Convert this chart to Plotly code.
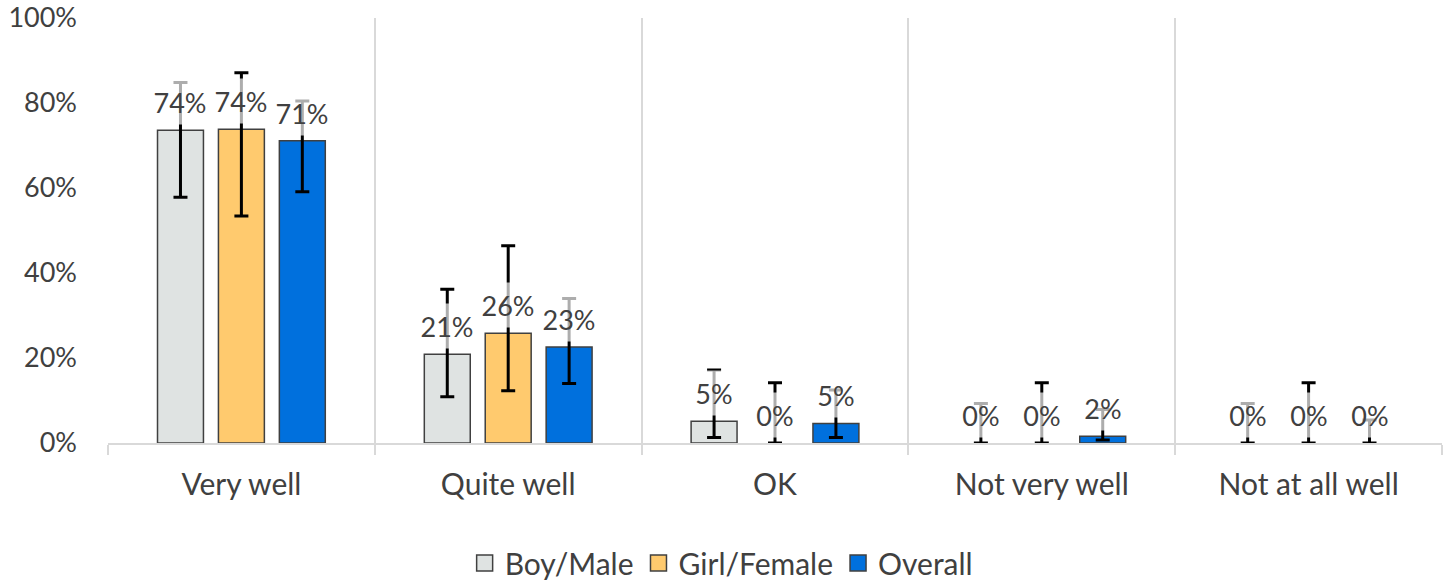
import plotly.graph_objects as go

categories = ["Very well", "Quite well", "OK", "Not very well", "Not at all well"]
series_names = ["Boy/Male", "Girl/Female", "Overall"]

boy_values = [73.6, 20.9, 5.1, 0.0, 0.0]
boy_upper = [84.8, 36.2, 17.2, 9.3, 9.3]
boy_lower = [57.8, 10.9, 1.3, 0.0, 0.0]

girl_values = [73.8, 25.8, 0.0, 0.0, 0.0]
girl_upper = [87.1, 46.4, 14.2, 14.2, 14.2]
girl_lower = [53.4, 12.3, 0.0, 0.0, 0.0]

overall_values = [71.1, 22.6, 4.6, 1.6, 0.0]
overall_upper = [80.5, 34.0, 12.5, 7.9, 5.4]
overall_lower = [59.1, 14.0, 1.3, 0.7, 0.0]

colors = ["#DFE3E2", "#FFCA6E", "#0070DD"]

y_ticks = [0, 20, 40, 60, 80, 100]
y_tick_labels = ["0%", "20%", "40%", "60%", "80%", "100%"]

FONT = "Lato"
FS_NUM = 27
FS_TXT = 30
TXT = "#404040"
GRID = "#D9D9D9"

values = [boy_values, girl_values, overall_values]
uppers = [boy_upper, girl_upper, overall_upper]
lowers = [boy_lower, girl_lower, overall_lower]

W, H = 1447, 582
ML, MR, MT, MB = 108, 5, 18, 139
BARGAP = 0.315
BARGROUPGAP = 0.246

fig = go.Figure()
for name, vals, up, lo, col in zip(series_names, values, uppers, lowers, colors):
    fig.add_trace(go.Bar(
        x=categories, y=vals, name=name, showlegend=False,
        marker=dict(color=col,
                    line=dict(color="#404040",
                              width=[1.5 if v > 0 else 0 for v in vals])),
        error_y=dict(type="data", symmetric=False,
                     array=[u - v for u, v in zip(up, vals)],
                     arrayminus=[v - l for v, l in zip(vals, lo)],
                     color="black", thickness=3, width=7),
    ))

# legend entries with larger square swatches
for name, col in zip(series_names, colors):
    fig.add_trace(go.Scatter(
        x=[None], y=[None], mode="markers", name=name,
        marker=dict(symbol="square", size=18, color=col,
                    line=dict(color="#404040", width=1.5)),
    ))

# data labels with semi-transparent boxes (as in the original)
plot_w = W - ML - MR
slot = plot_w / len(categories) * (1 - BARGAP) / len(series_names)
for i, vals in enumerate(values):
    for cat, v in zip(categories, vals):
        fig.add_annotation(
            x=cat, y=v, xref="x", yref="y",
            text=f"{round(v):.0f}%", showarrow=False,
            xshift=(i - 1) * slot, yshift=28, yanchor="middle",
            font=dict(family=FONT, size=FS_NUM, color=TXT),
            bgcolor="rgba(255,255,255,0.68)", height=42, width=58,
        )

plot_h = H - MT - MB
fig.update_layout(
    width=W, height=H,
    margin=dict(l=ML, r=MR, t=MT, b=MB, autoexpand=False),
    paper_bgcolor="white", plot_bgcolor="white",
    barmode="group", bargap=BARGAP, bargroupgap=BARGROUPGAP,
    font=dict(family=FONT, size=FS_TXT, color=TXT),
    showlegend=True,
    legend=dict(orientation="h", x=0.46, xanchor="center",
                y=-(563 - 443) / plot_h, yanchor="middle",
                font=dict(family=FONT, size=FS_TXT, color=TXT), itemclick=False,
                itemwidth=30, tracegroupgap=0),
)
fig.update_xaxes(
    type="category", range=[-0.5, 4.5],
    tickson="boundaries", showgrid=True, gridcolor=GRID, gridwidth=2,
    ticks="outside", ticklen=10, tickcolor=GRID, tickwidth=2,
    showline=True, linecolor=GRID, linewidth=2,
    tickfont=dict(family=FONT, size=FS_TXT, color=TXT),
    automargin=False, ticklabelstandoff=14,
)
fig.update_yaxes(
    range=[0, 100], tickvals=y_ticks, ticktext=y_tick_labels,
    showgrid=False, zeroline=False, showline=False,
    tickfont=dict(family=FONT, size=FS_NUM, color=TXT),
    automargin=False, ticklabelstandoff=30, ticklabeloverflow="allow",
)

fig.write_html("out.html", config={"displayModeBar": False},
               post_script="document.body.style.margin='0';document.body.style.overflow='hidden';")
